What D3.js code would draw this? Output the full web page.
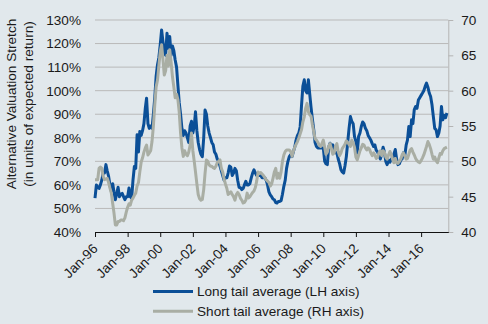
<!DOCTYPE html>
<html>
<head>
<meta charset="utf-8">
<script src="https://cdn.jsdelivr.net/npm/d3@7"></script>
<style>
  html, body { margin: 0; padding: 0; background: #e1e8ec; }
  svg { display: block; font-family: "Liberation Sans", Arial, sans-serif; }
</style>
</head>
<body>
<div id="mainDiv"></div>
<script>
'use strict';

// monthly readings, first one is Jan-96
var firstMonth = new Date(1996, 0, 1);
var lastMonth = new Date(2017, 8, 1);

// long tail average, % (left axis)
var longTail = [
    54.4, 60, 59, 58.5, 60, 62, 65, 65, 68.6, 66,
    63.6, 60, 57.3, 60.5, 57, 53.7, 56.4, 59, 55, 56,
    56.4, 55, 53.7, 55, 55, 58.7, 55, 54.4, 62, 67.8,
    67, 81.3, 74, 82.7, 81, 83, 86, 92.6, 96.8, 86,
    84, 85, 84, 90, 97, 106, 111, 114, 119.4, 125.8,
    121, 116, 115, 124.4, 118, 123, 115, 119, 117, 113,
    110, 102, 95, 90, 84, 81, 83, 82, 80, 78,
    85, 87, 82, 85, 91, 83, 78, 75, 73, 72,
    80, 91.8, 90, 85, 82, 80, 78, 77, 74, 73,
    71, 70, 68, 66, 64, 62, 63, 63, 65, 68,
    67.5, 64, 65, 67, 66, 62, 59, 58.8, 58, 58.5,
    60, 61.5, 60, 60, 60.5, 63, 65, 66.4, 65, 64,
    64, 64, 64, 63, 63, 63, 62, 60, 57, 55.8,
    55, 54, 53.7, 52.5, 52.3, 53, 53, 53.3, 56, 59.4,
    62, 67, 70, 72, 72.8, 72, 74, 76, 79, 81,
    82, 84.7, 94, 102, 104.6, 100, 99, 104.6, 99, 93,
    88, 83.4, 78, 76.3, 75.7, 75.7, 75.7, 75.7, 75.7, 70,
    69, 68.6, 76, 77.7, 76.3, 77, 75, 73.6, 73.6, 71,
    69, 66.4, 65.5, 65, 68, 72, 78, 84, 89, 87,
    86, 80.5, 78.5, 73.5, 80.5, 82, 84.8, 86.7, 86, 84,
    83, 81, 80, 79, 77.5, 76.3, 77, 74.7, 74, 72.5,
    71, 73, 76, 74, 70, 68.6, 70.5, 69.6, 71, 70.5,
    73, 75, 71, 68.6, 69, 70.5, 71, 73.6, 72.5, 77,
    79, 84.8, 80.5, 87.6, 86, 92, 93.3, 92.5, 96, 97,
    98, 99, 100, 101.8, 103.2, 101.5, 99, 97.5, 94, 89,
    84, 83.4, 80.5, 82, 85, 93.3, 87.6, 89.5, 88.5, 90.5
];

// short tail average (right axis)
var shortTail = [
    47.4, 47.4, 47.4, 49, 49.2, 49, 47.9, 47.4, 47.5, 47.6,
    47, 46.2, 45.5, 44, 42.7, 41, 41, 41.5, 41.5, 41.7,
    41.7, 41.6, 42, 42.8, 43.5, 44, 43.8, 44.5, 44.8, 45.2,
    45.5, 46.5, 47, 48.5, 49.9, 50.5, 51.3, 51.9, 52.3, 50.9,
    51.2, 51.5, 52.8, 55, 58, 60.5, 61.5, 63.5, 65.5, 66.5,
    64.5, 62.2, 62.8, 65, 63.5, 65.8, 64, 62, 60.5, 59,
    59.5, 58.7, 57, 54, 51.9, 50.7, 51.5, 51, 50.8, 51.3,
    52.3, 54, 51.5, 50, 48.5, 46.8, 45.3, 44.7, 44.5, 44.6,
    46, 48.3, 50.2, 50, 49.5, 49.3, 49.3, 49.1, 49, 49.3,
    49.8, 50, 50.2, 49, 48.5, 47.5, 46.8, 46.2, 45.3, 45.5,
    45.7, 45.3, 45, 44.5, 45.3, 45.6, 45.3, 44.8, 44.5, 44.1,
    44.2, 44.5, 45.5, 44.8, 45, 45.3, 45.6, 45.8, 46.3, 47.2,
    48.5, 48.3, 48.4, 48.2, 48, 47.7, 47.4, 47.2, 47, 46.5,
    46.8, 47.6, 48.5, 49, 47.6, 48.3, 47.6, 48.5, 50, 50.9,
    51.4, 51.6, 51.6, 51.6, 51.4, 50.7, 51.4, 52, 52.4, 52.8,
    53.3, 53.9, 54.5, 55.6, 56.3, 57.5, 58.2, 57, 56.6, 56.4,
    55.2, 54.2, 53.2, 53, 52.7, 52.3, 52.1, 52.5, 53, 52,
    51, 51.3, 52.1, 52.5, 51.8, 51, 51.2, 52.1, 52.5, 51.4,
    50.8, 51.2, 51.8, 52.1, 52.4, 52.9, 52.7, 52.4, 52.1, 53,
    52.6, 52, 50.6, 50.2, 50.8, 51.5, 51.9, 52.4, 52.3, 51.9,
    51.6, 51.9, 51.7, 51.2, 50.8, 51.2, 50.9, 50.4, 50.6, 51.2,
    51.5, 50.8, 51.5, 51.3, 50.6, 50.3, 50.9, 51.4, 51, 50.3,
    49.8, 50.4, 49.8, 49.7, 50, 50.3, 50.9, 51.2, 50.8, 50.3,
    50.4, 51, 51.6, 51.8, 51.3, 50.9, 50.4, 50.1, 49.9, 49.8,
    50.1, 50.5, 50.9, 51.5, 52.1, 52.8, 52.4, 51.8, 51, 50.3,
    50.6, 50.1, 49.8, 50.5, 51.1, 51, 51.5, 51.8, 51.9, 52
];

var leftTicks = [40, 50, 60, 70, 80, 90, 100, 110, 120, 130];
var rightTicks = [40, 45, 50, 55, 60, 65, 70];
var seriesNames = ['Long tail average (LH axis)', 'Short tail average (RH axis)'];
var seriesColors = ['#0b4f97', '#a9aea4'];
var axisTitle = ['Alternative Valuation Stretch', '(in units of expected return)'];

var chart = {};

chart.w = 488;
chart.h = 324;
chart.left = 95;
chart.right = 448.3;
chart.top = 20;
chart.bottom = 232;
chart.textColor = '#1a1a1a';
chart.fontSize = '13.6px';

chart.months = longTail.map(function (d, i) { return d3.timeMonth.offset(firstMonth, i); });

chart.xScale = d3.scaleTime().domain([firstMonth, lastMonth]).range([chart.left, chart.right]);
chart.yLeft = d3.scaleLinear().domain([40, 130]).range([chart.bottom, chart.top]);
chart.yRight = d3.scaleLinear().domain([40, 70]).range([chart.bottom, chart.top]);

chart.appendSvg = function (element) {
    return d3.select(element).append('svg')
        .attr('width', chart.w)
        .attr('height', chart.h);
};

chart.drawGrid = function (svg) {
    svg.append('g').selectAll('line')
        .data(leftTicks.slice(1))
        .enter().append('line')
            .attr('x1', chart.left)
            .attr('x2', chart.right)
            .attr('y1', function (d) { return chart.yLeft(d); })
            .attr('y2', function (d) { return chart.yLeft(d); })
            .attr('stroke', '#b9b9b9')
            .attr('stroke-width', 1);
};

chart.drawAxes = function (svg) {
    var left = svg.append('g')
        .attr('transform', 'translate(' + chart.left + ',0)')
        .call(d3.axisLeft(chart.yLeft).tickValues(leftTicks).tickSize(0).tickPadding(14)
            .tickFormat(function (d) { return d + '%'; }));
    left.select('.domain').remove();

    var right = svg.append('g')
        .attr('transform', 'translate(' + chart.right + ',0)')
        .call(d3.axisRight(chart.yRight).tickValues(rightTicks).tickSize(5).tickSizeOuter(0).tickPadding(8));
    right.selectAll('line, path').attr('stroke', '#b4b4b4');

    var bottom = svg.append('g')
        .attr('transform', 'translate(0,' + chart.bottom + ')')
        .call(d3.axisBottom(chart.xScale).ticks(d3.timeYear.every(2)).tickSize(5).tickSizeOuter(0)
            .tickFormat(d3.timeFormat('%b-%y')));
    bottom.selectAll('line, path').attr('stroke', '#111');
    bottom.selectAll('text')
        .attr('x', 0)
        .attr('y', 0)
        .attr('dy', 0)
        .attr('text-anchor', 'end')
        .attr('transform', 'translate(3,17.5) rotate(-45)');

    svg.selectAll('.tick text')
        .attr('font-family', null)
        .attr('font-size', chart.fontSize)
        .attr('fill', chart.textColor);

    svg.append('text')
        .attr('transform', 'translate(0,104) rotate(-90)')
        .attr('text-anchor', 'middle')
        .attr('font-size', chart.fontSize)
        .attr('fill', chart.textColor)
        .selectAll('tspan')
        .data(axisTitle)
        .enter().append('tspan')
            .attr('x', 0)
            .attr('y', function (d, i) { return 16 + i * 16.5; })
            .text(function (d) { return d; });
};

chart.drawLines = function (svg) {
    var lineLeft = d3.line()
        .x(function (d, i) { return chart.xScale(chart.months[i]); })
        .y(function (d) { return chart.yLeft(d); });
    var lineRight = d3.line()
        .x(function (d, i) { return chart.xScale(chart.months[i]); })
        .y(function (d) { return chart.yRight(d); });

    svg.append('path')
        .datum(longTail)
        .attr('d', lineLeft)
        .attr('fill', 'none')
        .attr('stroke', seriesColors[0])
        .attr('stroke-width', 3)
        .attr('stroke-linejoin', 'round');

    svg.append('path')
        .datum(shortTail)
        .attr('d', lineRight)
        .attr('fill', 'none')
        .attr('stroke', seriesColors[1])
        .attr('stroke-width', 3)
        .attr('stroke-linejoin', 'round');
};

chart.drawLegend = function (svg) {
    var item = svg.append('g').selectAll('g')
        .data(seriesNames)
        .enter().append('g')
            .attr('transform', function (d, i) { return 'translate(153,' + (291.5 + i * 19.8) + ')'; });

    item.append('line')
        .attr('x1', 0)
        .attr('x2', 40)
        .attr('stroke', function (d, i) { return seriesColors[i]; })
        .attr('stroke-width', 3);

    item.append('text')
        .attr('x', 44)
        .attr('dy', '0.35em')
        .attr('font-size', chart.fontSize)
        .attr('fill', chart.textColor)
        .text(function (d) { return d; });
};

chart.run = function () {
    var svg = chart.appendSvg('#mainDiv');
    chart.drawGrid(svg);
    chart.drawAxes(svg);
    chart.drawLines(svg);
    chart.drawLegend(svg);
};

window.onload = chart.run;
</script>
</body>
</html>
